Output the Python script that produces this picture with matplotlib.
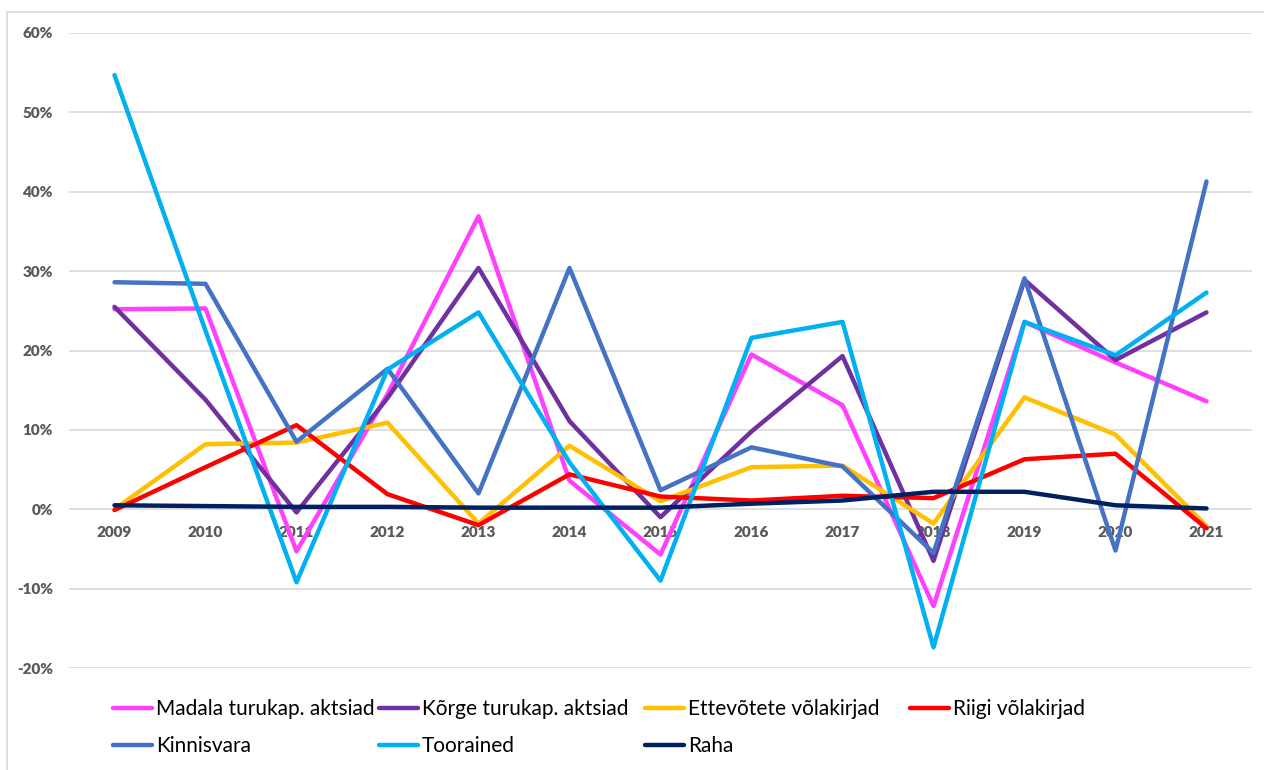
import matplotlib
matplotlib.use("Agg")
import matplotlib.pyplot as plt
from matplotlib.patches import Rectangle
from matplotlib.ticker import FuncFormatter

# annual returns by asset class, %
years = ["2009", "2010", "2011", "2012", "2013", "2014", "2015",
         "2016", "2017", "2018", "2019", "2020", "2021"]
madala = [25.2, 25.3, -5.3, 14.5, 36.9, 3.6, -5.7, 19.5, 13.1, -12.2, 23.6, 18.5, 13.6]
korge = [25.5, 13.8, -0.4, 14.0, 30.4, 11.1, -1.0, 9.8, 19.3, -6.5, 28.9, 18.8, 24.8]
ettevotete = [0.0, 8.2, 8.4, 10.9, -1.8, 8.0, 1.0, 5.3, 5.5, -1.8, 14.1, 9.4, -2.1]
riigi = [-0.1, 5.3, 10.6, 1.9, -2.0, 4.4, 1.6, 1.1, 1.7, 1.4, 6.3, 7.0, -2.4]
kinnisvara = [28.6, 28.4, 8.5, 17.7, 2.0, 30.4, 2.4, 7.8, 5.4, -5.5, 29.1, -5.2, 41.3]
toorained = [54.7, 22.5, -9.2, 17.6, 24.8, 5.9, -9.0, 21.6, 23.6, -17.4, 23.6, 19.4, 27.3]
raha = [0.5, 0.4, 0.3, 0.3, 0.2, 0.2, 0.2, 0.7, 1.1, 2.2, 2.2, 0.5, 0.1]

series = [
    ("Madala turukap. aktsiad", madala, "#FF40FF"),
    ("Kõrge turukap. aktsiad", korge, "#7030A0"),
    ("Ettevõtete võlakirjad", ettevotete, "#FFC000"),
    ("Riigi võlakirjad", riigi, "#FF0000"),
    ("Kinnisvara", kinnisvara, "#4472C4"),
    ("Toorained", toorained, "#00B0F0"),
    ("Raha", raha, "#002060"),
]

plt.rcParams["font.family"] = ["Lato", "DejaVu Sans"]

W, H = 1264, 770
fig = plt.figure(figsize=(W / 100, H / 100), dpi=100)

# light frame around the whole chart area
fig.patches.append(Rectangle((7 / W, -0.1), 1.2, 1 - 12 / H + 0.1, transform=fig.transFigure,
                             fill=False, edgecolor="#D9D9D9", linewidth=1.2))

ax = fig.add_axes([69 / W, 1 - 668 / H, (1252 - 69) / W, (668 - 33) / H])

x = list(range(len(years)))
lines = {}
for name, vals, color in series:
    ln, = ax.plot(x, vals, color=color, linewidth=3.2, label=name,
                  solid_joinstyle="round", solid_capstyle="round")
    lines[name] = ln

ax.set_xlim(-0.5, len(years) - 0.5)
ax.set_ylim(-20, 60)
ax.set_yticks(range(-20, 61, 10))
ax.yaxis.set_major_formatter(FuncFormatter(lambda v, p: f"{v:.0f}%"))
ax.grid(axis="y", color="#D9D9D9", linewidth=1.2)
ax.set_axisbelow(True)

# category labels sit just under the zero line
ax.set_xticks(x)
ax.set_xticklabels(years)
ax.spines["bottom"].set_position(("data", 0))
for s in ax.spines.values():
    s.set_visible(False)
ax.tick_params(axis="x", length=0, pad=12, labelsize=11, labelcolor="#595959")
ax.tick_params(axis="y", length=0, pad=11.5, labelsize=11, labelcolor="#595959")
for lbl in ax.get_xticklabels() + ax.get_yticklabels():
    lbl.set_fontweight("heavy")

# legend laid out in fixed-width columns, two rows
columns = [
    ["Madala turukap. aktsiad", "Kinnisvara"],
    ["Kõrge turukap. aktsiad", "Toorained"],
    ["Ettevõtete võlakirjad", "Raha"],
    ["Riigi võlakirjad"],
]
col_x = [113, 379, 645, 910]
for cx, names in zip(col_x, columns):
    fig.legend([lines[n] for n in names], names, loc="upper left",
               bbox_to_anchor=(cx / W, 1 - 699 / H), frameon=False,
               fontsize=15, handlelength=1.85, handletextpad=0.2,
               borderpad=0, borderaxespad=0, labelspacing=0.83)

fig.savefig("out.png", dpi=100)
